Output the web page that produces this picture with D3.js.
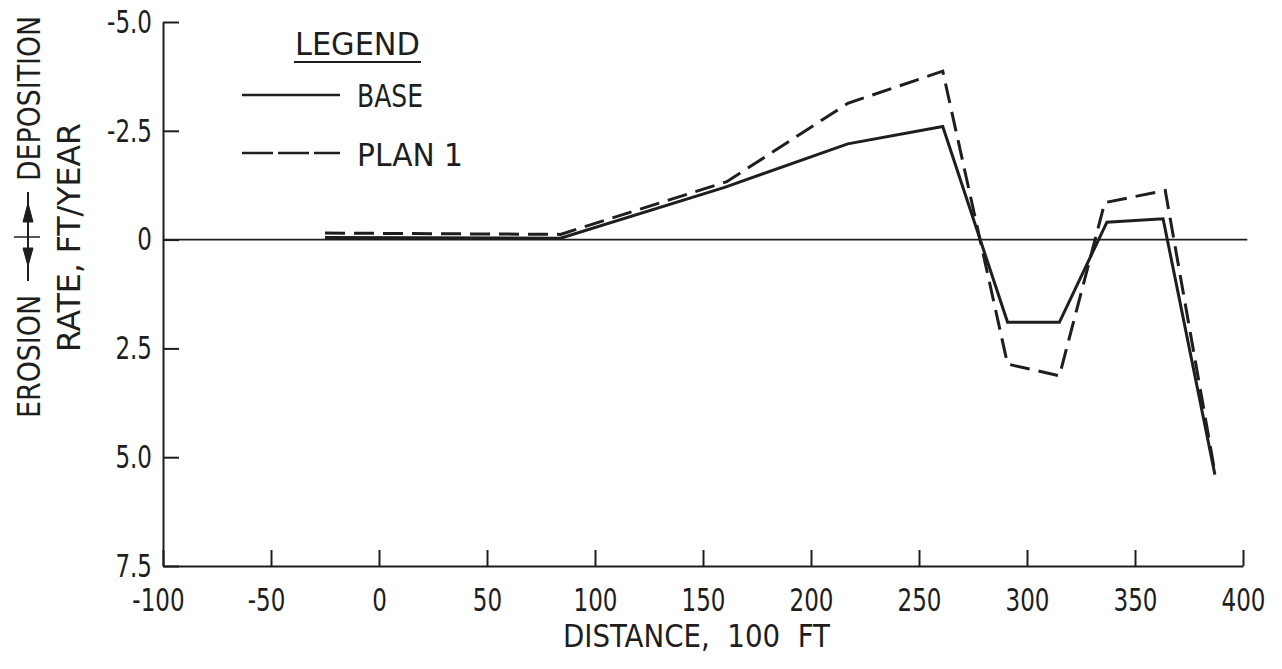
<!DOCTYPE html>
<html>
<head>
<meta charset="utf-8">
<script src="https://cdn.jsdelivr.net/npm/d3@7"></script>
<style>
body { margin: 0; background: #fff; }
text { font-family: "Liberation Sans Narrow", "DejaVu Sans Condensed", sans-serif; fill: #1e1e1e; font-size: 32px; }
.axis path, .axis line { stroke: #1e1e1e; stroke-width: 2; }
.axis text { font-size: 32px; }
.line { fill: none; stroke: #1e1e1e; stroke-width: 3; stroke-linejoin: miter; }
.plan { stroke-dasharray: 20, 9; }
</style>
</head>
<body>
<svg id="chart" width="1282" height="669"></svg>
<script>
// distance (100 ft) and erosion/deposition rate (ft/year), negative = deposition
var baseDistance = [-25, 84, 160, 217, 261, 291, 315, 337, 363, 387];
var baseRate = [-0.05, -0.03, -1.2, -2.2, -2.6, 1.9, 1.9, -0.4, -0.48, 5.4];
var planDistance = [-25, 84, 161, 217, 261, 291, 315, 336, 364, 387];
var planRate = [-0.15, -0.12, -1.33, -3.13, -3.87, 2.86, 3.13, -0.85, -1.13, 5.35];

var xTicks = [-100, -50, 0, 50, 100, 150, 200, 250, 300, 350, 400];
var yTicks = [-5, -2.5, 0, 2.5, 5, 7.5];
var yTickLabels = ["-5.0", "-2.5", "0", "2.5", "5.0", "7.5"];
var zeroLineEnd = 402;

var svg = d3.select("#chart");

var x = d3.scaleLinear().domain([-100, 400]).range([163, 1243]);
var y = d3.scaleLinear().domain([-5, 7.5]).range([22, 566]);

// narrow the glyphs, the scan uses a tall condensed face
function squeeze(sel, k) {
    sel.each(function() {
        var w = this.getComputedTextLength();
        d3.select(this).attr("textLength", w * k).attr("lengthAdjust", "spacingAndGlyphs");
    });
}
function fit(sel, w) {
    sel.attr("textLength", w).attr("lengthAdjust", "spacingAndGlyphs");
}

// axes
var ya = svg.append("g")
    .attr("class", "axis")
    .attr("transform", "translate(163,0)")
    .call(d3.axisLeft(y).tickValues(yTicks).tickSizeInner(-16).tickSizeOuter(0)
        .tickPadding(11).tickFormat(function(d, i) { return yTickLabels[i]; }));
squeeze(ya.selectAll(".tick text"), 0.8);

var xa = svg.append("g")
    .attr("class", "axis")
    .attr("transform", "translate(0,566)")
    .call(d3.axisBottom(x).tickValues(xTicks).tickSizeInner(-16).tickSizeOuter(0)
        .tickPadding(22).tickFormat(function(d) { return String(d); }));
xa.selectAll(".tick text")
    .attr("dx", function(d) { return d < 0 ? -5 : 0; });
squeeze(xa.selectAll(".tick text"), 0.8);

// zero line
svg.append("line")
    .attr("x1", x(-100)).attr("x2", x(zeroLineEnd))
    .attr("y1", y(0)).attr("y2", y(0))
    .attr("stroke", "#1e1e1e").attr("stroke-width", 1.6);

// data lines
var line = d3.line()
    .x(function(d) { return x(d[0]); })
    .y(function(d) { return y(d[1]); });

svg.append("path")
    .datum(d3.zip(baseDistance, baseRate))
    .attr("class", "line base")
    .attr("d", line);
svg.append("path")
    .datum(d3.zip(planDistance, planRate))
    .attr("class", "line plan")
    .attr("d", line);

// legend
var lg = svg.append("g");
lg.append("text").attr("x", 295).attr("y", 55).text("LEGEND").call(fit, 125);
lg.append("line").attr("x1", 294).attr("x2", 421).attr("y1", 62).attr("y2", 62)
    .attr("stroke", "#1e1e1e").attr("stroke-width", 2);
lg.append("line").attr("x1", 242).attr("x2", 340).attr("y1", 95).attr("y2", 95)
    .attr("stroke", "#1e1e1e").attr("stroke-width", 2.5);
lg.append("text").attr("x", 357).attr("y", 107).text("BASE").call(fit, 66);
lg.append("line").attr("x1", 242).attr("x2", 340).attr("y1", 153).attr("y2", 153)
    .attr("stroke", "#1e1e1e").attr("stroke-width", 2.5).attr("stroke-dasharray", "31,5");
lg.append("text").attr("x", 357).attr("y", 166).text("PLAN 1").call(fit, 106);

// axis titles
svg.append("text")
    .attr("x", 563).attr("y", 647)
    .style("white-space", "pre")
    .text("DISTANCE,  100  FT").call(fit, 267);

svg.append("text")
    .attr("transform", "translate(40,418) rotate(-90)")
    .text("EROSION").call(fit, 123);
svg.append("text")
    .attr("transform", "translate(40,181) rotate(-90)")
    .text("DEPOSITION").call(fit, 165);
svg.append("text")
    .attr("transform", "translate(80,352) rotate(-90)")
    .text("RATE, FT/YEAR").call(fit, 229);

// erosion/deposition arrow
var ar = svg.append("g").attr("fill", "#1e1e1e").attr("stroke", "#1e1e1e");
ar.append("line").attr("x1", 28).attr("x2", 28).attr("y1", 192).attr("y2", 281).attr("stroke-width", 2);
ar.append("line").attr("x1", 14).attr("x2", 40).attr("y1", 237).attr("y2", 237).attr("stroke-width", 1.5);
ar.append("path").attr("d", "M28,203L23,222L33,222Z").attr("stroke-width", 1);
ar.append("path").attr("d", "M28,266L23,248L33,248Z").attr("stroke-width", 1);
</script>
</body>
</html>
